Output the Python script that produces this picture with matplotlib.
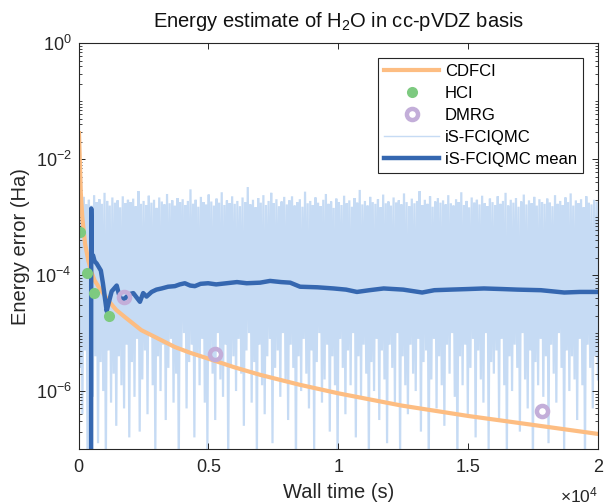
import matplotlib
matplotlib.use("Agg")
import matplotlib.pyplot as plt
import numpy as np

# --- data (times in s, errors as log10 Ha) ---
# iS-FCIQMC raw energy: upper and lower ends of each oscillation
qmc_top = [
    -0.30, -2.30, -2.65, -2.78, -2.70, -2.80, -2.62, -2.74, -2.69, -2.77, -2.58, -2.72, -2.80, -2.66, -2.75, -2.71, -2.83, -2.64, -2.76, -2.70,
    -2.74, -2.68, -2.81, -2.55, -2.77, -2.72, -2.79, -2.63, -2.75, -2.70, -2.84, -2.66, -2.73, -2.78, -2.60, -2.76, -2.71, -2.80, -2.67, -2.74,
    -2.69, -2.79, -2.72, -2.52, -2.77, -2.70, -2.82, -2.65, -2.74, -2.78, -2.61, -2.73, -2.80, -2.68, -2.75, -2.57, -2.79, -2.71, -2.76, -2.64,
    -2.77, -2.72, -2.81, -2.66, -2.74, -2.48, -2.78, -2.70, -2.83, -2.67, -2.75, -2.62, -2.79, -2.72, -2.58, -2.76, -2.69, -2.81, -2.73, -2.65,
    -2.78, -2.71, -2.64, -2.80, -2.74, -2.69, -2.82, -2.56, -2.76, -2.72, -2.79, -2.66, -2.75, -2.81, -2.70, -2.60, -2.77, -2.73, -2.84, -2.68,
    -2.74, -2.79, -2.63, -2.76, -2.71, -2.82, -2.67, -2.75, -2.53, -2.78, -2.72, -2.80, -2.65, -2.74, -2.77, -2.69, -2.83, -2.61, -2.76, -2.73,
    -2.80, -2.66, -2.75, -2.71, -2.78, -2.59, -2.74, -2.81, -2.68, -2.76, -2.72, -2.55, -2.79, -2.70, -2.77, -2.64, -2.82, -2.73, -2.67, -2.75,
    -2.71, -2.78, -2.62, -2.76, -2.80, -2.69, -2.74, -2.57, -2.79, -2.72, -2.83, -2.66, -2.75, -2.70, -2.78, -2.63, -2.76, -2.81, -2.68, -2.74,
    -2.79, -2.64, -2.77, -2.72, -2.58, -2.80, -2.70, -2.75, -2.67, -2.82, -2.73, -2.61, -2.78, -2.71, -2.76, -2.65, -2.80, -2.69, -2.74, -2.77,
    -2.68, -2.75, -2.81, -2.62, -2.77, -2.72, -2.79, -2.66, -2.74, -2.59, -2.80, -2.71, -2.76, -2.69, -2.83, -2.64, -2.75, -2.78, -2.70, -2.73,
]
qmc_bot = [
    -5.6, -6.4, -5.3, -7.4, -5.9, -6.1, -5.4, -6.9, -5.5, -6.0, -7.3, -5.3, -6.2, -5.7, -6.6, -5.4, -5.9, -6.3, -5.2, -6.8,
    -5.5, -6.1, -5.1, -6.7, -5.8, -5.3, -6.4, -5.0, -5.9, -7.1, -5.4, -6.0, -5.2, -6.5, -5.6, -5.1, -6.2, -5.7, -7.4, -5.3,
    -5.0, -6.3, -5.5, -5.2, -6.8, -5.4, -5.9, -5.1, -6.2, -7.0, -5.3, -5.7, -6.5, -5.0, -5.8, -6.1, -5.2, -7.3, -5.6, -5.4,
    -6.0, -5.1, -5.7, -6.6, -5.3, -5.0, -6.2, -5.5, -7.2, -5.2, -5.9, -6.4, -5.4, -5.1, -6.9, -5.6, -5.3, -6.1, -5.0, -5.8,
    -6.5, -5.2, -5.6, -7.4, -5.4, -6.0, -5.1, -5.7, -6.3, -5.3, -7.0, -5.5, -5.0, -6.2, -5.8, -5.2, -6.7, -5.4, -5.9, -7.3,
    -5.1, -5.6, -6.4, -5.3, -5.9, -5.0, -6.8, -5.4, -6.1, -5.2, -5.7, -7.2, -5.5, -6.0, -5.1, -6.5, -5.3, -5.8, -6.9, -5.2,
    -5.6, -6.2, -5.0, -7.1, -5.4, -5.9, -6.4, -5.2, -5.7, -6.0, -5.1, -6.7, -5.5, -5.3, -7.4, -5.8, -5.1, -6.3, -5.4, -5.9,
    -6.6, -5.2, -5.7, -5.0, -6.1, -7.3, -5.4, -5.9, -5.2, -6.4, -5.6, -5.1, -6.8, -5.3, -5.8, -6.2, -5.0, -7.0, -5.5, -5.7,
    -5.3, -6.5, -5.1, -5.9, -7.2, -5.4, -6.0, -5.2, -5.6, -6.7, -5.0, -5.8, -6.3, -5.3, -7.4, -5.5, -5.9, -5.1, -6.1, -5.4,
    -6.9, -5.2, -5.7, -6.2, -5.0, -5.6, -7.1, -5.3, -6.0, -5.4, -5.8, -6.5, -5.1, -5.9, -7.3, -5.2, -5.6, -6.3, -5.4, -5.8,
]

mean_t = [485, 490, 515, 560, 620, 700, 780, 860, 940, 1085, 1150, 1277, 1470, 1550, 1650, 1790, 1950, 2110, 2365,
          2490, 2620, 2815, 3000, 3200, 3450, 3710, 3900, 4095, 4300, 4480, 4700, 4990, 5300, 5700, 6100, 6475, 6990,
          7375, 7800, 8150, 8530, 9200, 9820, 10300, 10720, 11200, 11750, 12500, 13230, 13700, 14320, 15000, 15610,
          16300, 16900, 17800, 18700, 19300, 20000]
mean_e = [-8.0, -2.85, -3.70, -3.66, -3.76, -3.80, -3.86, -3.92, -4.14, -4.62, -4.50, -4.28, -4.18, -4.32, -4.42,
          -4.40, -4.33, -4.31, -4.46, -4.31, -4.37, -4.29, -4.25, -4.23, -4.20, -4.19, -4.16, -4.14, -4.18, -4.19,
          -4.15, -4.14, -4.16, -4.14, -4.12, -4.14, -4.13, -4.10, -4.12, -4.13, -4.20, -4.21, -4.23, -4.25, -4.29,
          -4.26, -4.23, -4.25, -4.30, -4.26, -4.25, -4.24, -4.23, -4.24, -4.25, -4.26, -4.30, -4.29, -4.29]

cdfci_t = [20, 58, 85, 146, 250, 377, 500, 618, 800, 1130, 1450, 1776, 2420, 3000, 3706, 4300, 4990, 6000, 6990,
           8500, 10010, 12430, 15000, 17430, 20000]
cdfci_e = [-1.55, -2.13, -2.55, -3.00, -3.45, -3.75, -3.95, -4.09, -4.22, -4.43, -4.60, -4.72, -4.95, -5.08, -5.24,
           -5.34, -5.44, -5.59, -5.72, -5.89, -6.04, -6.25, -6.43, -6.58, -6.74]

hci_t = [75, 330, 600, 1165]
hci_e = [-3.25, -3.97, -4.31, -4.70]

dmrg_t = [1750, 5250, 17840]
dmrg_e = [-4.37, -5.36, -6.35]

x_ticks = [0, 5000, 10000, 15000, 20000]
x_tick_labels = ["0", "0.5", "1", "1.5", "2"]
y_ticks = [1e-6, 1e-4, 1e-2, 1e0]
y_tick_labels = [r"$10^{-6}$", r"$10^{-4}$", r"$10^{-2}$", r"$10^{0}$"]

c_band = "#c6dbf4"
c_mean = "#3567b0"
c_cdfci = "#fdbd82"
c_hci = "#7dca80"
c_dmrg = "#c3aed9"


def graph():
    plt.rcParams["font.family"] = ["Liberation Sans", "DejaVu Sans"]
    plt.rcParams["mathtext.fontset"] = "custom"
    plt.rcParams["mathtext.rm"] = "Liberation Sans"
    plt.rcParams["mathtext.it"] = "Liberation Sans:italic"
    plt.rcParams["mathtext.bf"] = "Liberation Sans:bold"
    plt.rcParams["mathtext.default"] = "regular"
    plt.rcParams["path.simplify"] = False  # keep every spike of the noisy trace

    fig = plt.figure(figsize=(6.05, 5.04), dpi=100)
    ax = fig.add_axes([78.5 / 605, 1 - 449 / 504, 519.5 / 605, 405.7 / 504])

    # raw QMC signal: alternate top / bottom values
    n = len(qmc_top)
    qmc = np.empty(2 * n)
    qmc[0::2] = qmc_top
    qmc[1::2] = qmc_bot
    t_qmc = np.linspace(0, 20000, 2 * n)

    ax.plot(t_qmc, 10 ** qmc, color=c_band, lw=1.6, solid_joinstyle="bevel", zorder=1, label="iS-FCIQMC")
    ax.plot(cdfci_t, 10 ** np.array(cdfci_e), color=c_cdfci, lw=3, zorder=2, label="CDFCI")
    ax.plot(mean_t, 10 ** np.array(mean_e), color=c_mean, lw=3.2, zorder=3, label="iS-FCIQMC mean")
    ax.plot(hci_t, 10 ** np.array(hci_e), "o", color=c_hci, ms=8, mew=0, zorder=4, label="HCI")
    ax.plot(dmrg_t, 10 ** np.array(dmrg_e), "o", mfc="none", mec=c_dmrg, ms=8, mew=3.2, zorder=5, label="DMRG")

    ax.set_yscale("log")
    ax.set_xlim(0, 20000)
    ax.set_ylim(1e-7, 1)
    ax.set_xticks(x_ticks)
    ax.set_xticklabels(x_tick_labels)
    ax.set_yticks(y_ticks)
    ax.set_yticklabels(y_tick_labels)
    ax.yaxis.set_minor_locator(matplotlib.ticker.LogLocator(base=10, subs=np.arange(1, 10), numticks=50))
    ax.yaxis.set_minor_formatter(matplotlib.ticker.NullFormatter())

    for s in ax.spines.values():
        s.set_color("#262626")
        s.set_linewidth(0.8)
        s.set_zorder(6)
    ax.tick_params(which="both", direction="in", top=True, right=True, colors="#262626", labelcolor="#262626")
    ax.tick_params(which="major", length=4.5, width=0.7, labelsize=13)
    ax.tick_params(which="minor", length=2.2, width=0.6)
    ax.tick_params(axis="x", pad=7)
    ax.tick_params(axis="y", pad=5)

    ax.set_title(r"Energy estimate of H$_2$O in cc-pVDZ basis", fontsize=14.5, pad=12, color="#111111")
    ax.set_xlabel("Wall time (s)", fontsize=14.5, color="#262626")
    ax.set_ylabel("Energy error (Ha)", fontsize=14.5, color="#262626")
    ax.xaxis.set_label_coords(0.5, -0.083)
    ax.yaxis.set_label_coords(-0.093, 0.5)
    ax.text(1.0, -0.09, r"$\times10^{4}$", transform=ax.transAxes, ha="right", va="top",
            fontsize=12.5, color="#262626")

    h, l = ax.get_legend_handles_labels()
    order = ["CDFCI", "HCI", "DMRG", "iS-FCIQMC", "iS-FCIQMC mean"]
    hs = [h[l.index(k)] for k in order]
    leg = ax.legend(hs, order, loc="upper right", fontsize=12, frameon=True, fancybox=False,
                    edgecolor="#262626", framealpha=1, handlelength=3.3, handletextpad=0.35,
                    labelspacing=0.42, borderpad=0.35, borderaxespad=0.9)
    leg.get_frame().set_linewidth(0.8)
    leg.legend_handles[3].set_linewidth(1.0)
    leg.set_zorder(7)

    fig.savefig("out.png", dpi=100)


if __name__ == "__main__":
    graph()
